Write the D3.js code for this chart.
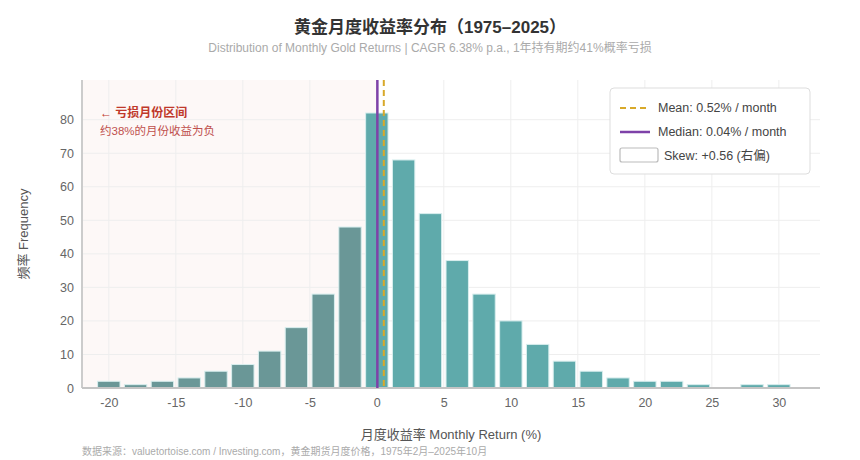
<!DOCTYPE html>
<html>
<head>
<meta charset="utf-8">
<script src="https://cdn.jsdelivr.net/npm/d3@7"></script>
<style>
  body { margin: 0; background: #fff; font-family: "Liberation Sans", Arial, "Noto Sans CJK SC", sans-serif; }
  svg text { font-family: "Liberation Sans", Arial, "Noto Sans CJK SC", sans-serif; }
</style>
</head>
<body>
<script>
// bin centres (%), bin width 2
var binCenters = [-20, -18, -16, -14, -12, -10, -8, -6, -4, -2, 0, 2, 4, 6, 8, 10, 12, 14, 16, 18, 20, 22, 24, 26, 28, 30];
var binCounts  = [2, 1, 2, 3, 5, 7, 11, 18, 28, 48, 82, 68, 52, 38, 28, 20, 13, 8, 5, 3, 2, 2, 1, 0, 1, 1];
var binWidth = 2;
var xTicks = [-20, -15, -10, -5, 0, 5, 10, 15, 20, 25, 30];
var yTicks = [0, 10, 20, 30, 40, 50, 60, 70, 80];
var meanReturn = 0.52, medianReturn = 0.04;
var legendLabels = ["Mean: 0.52% / month", "Median: 0.04% / month", "Skew: +0.56 (右偏)"];

var W = 860, H = 460;
var margin = {top: 80, right: 40, bottom: 72, left: 82},
    width = W - margin.left - margin.right,
    height = H - margin.top - margin.bottom;

var svg = d3.select("body").append("svg")
    .attr("width", W)
    .attr("height", H);

// title + subtitle
svg.append("text")
    .attr("x", 430).attr("y", 33)
    .attr("text-anchor", "middle")
    .style("font-size", "17px").style("font-weight", "bold").style("fill", "#333")
    .text("黄金月度收益率分布（1975–2025）");
svg.append("text")
    .attr("x", 430).attr("y", 52)
    .attr("text-anchor", "middle")
    .style("font-size", "12px").style("fill", "#aaa")
    .text("Distribution of Monthly Gold Returns | CAGR 6.38% p.a., 1年持有期约41%概率亏损");

var g = svg.append("g")
    .attr("transform", "translate(" + margin.left + "," + margin.top + ")");

var x = d3.scaleLinear().domain([-22, 33.07]).range([0, width]);
var y = d3.scaleLinear().domain([0, 82 * 1.12]).range([height, 0]);

// loss region shading
g.append("rect")
    .attr("x", 0).attr("y", 0)
    .attr("width", x(0)).attr("height", height)
    .attr("fill", "#fdf8f7");

// grid
g.append("g").selectAll("line")
    .data(xTicks).enter().append("line")
    .attr("x1", function(d) { return x(d); }).attr("x2", function(d) { return x(d); })
    .attr("y1", 0).attr("y2", height)
    .attr("stroke", "#eeeeee").attr("stroke-width", 1);
g.append("g").selectAll("line")
    .data(yTicks.filter(function(d) { return d > 0; })).enter().append("line")
    .attr("x1", 0).attr("x2", width)
    .attr("y1", function(d) { return y(d); }).attr("y2", function(d) { return y(d); })
    .attr("stroke", "#eeeeee").attr("stroke-width", 1);

// bars
var bins = binCenters.map(function(c, i) { return {c: c, n: binCounts[i]}; });
g.append("g").selectAll("rect")
    .data(bins.filter(function(d) { return d.n > 0; })).enter().append("rect")
    .attr("x", function(d) { return x(d.c - binWidth / 2) + 2.2; })
    .attr("width", function(d) { return x(d.c + binWidth / 2) - x(d.c - binWidth / 2) - 4.4; })
    .attr("y", function(d) { return y(d.n); })
    .attr("height", function(d) { return height - y(d.n); })
    .attr("fill", function(d) { return d.c < 0 ? "#6a9797" : "#5faaab"; })
    .attr("stroke", "#d8eeee").attr("stroke-width", 1);

// axes
var fmt = function(d) { return String(d); };
var xAxis = g.append("g")
    .attr("transform", "translate(0," + height + ")")
    .call(d3.axisBottom(x).tickValues(xTicks).tickFormat(fmt).tickSize(0).tickPadding(10));
var yAxis = g.append("g")
    .call(d3.axisLeft(y).tickValues(yTicks).tickFormat(fmt).tickSize(0).tickPadding(8));
[xAxis, yAxis].forEach(function(a) {
  a.selectAll("text").style("font-size", "12.5px").style("fill", "#666")
    .style("font-family", "'Liberation Sans', Arial, sans-serif");
  a.select(".domain").remove();
});
g.append("line")
    .attr("x1", 0).attr("x2", 0).attr("y1", 0).attr("y2", height)
    .attr("stroke", "#cccccc").attr("stroke-width", 2);
g.append("line")
    .attr("x1", 0).attr("x2", width).attr("y1", height).attr("y2", height)
    .attr("stroke", "#c4c4c4").attr("stroke-width", 2);

// median and mean
g.append("line")
    .attr("x1", x(medianReturn)).attr("x2", x(medianReturn))
    .attr("y1", 0).attr("y2", height)
    .attr("stroke", "#7e42a8").attr("stroke-width", 2.5);
g.append("line")
    .attr("x1", x(meanReturn)).attr("x2", x(meanReturn))
    .attr("y1", 0).attr("y2", height)
    .attr("stroke", "#d8a92a").attr("stroke-width", 2)
    .attr("stroke-dasharray", "6,4");

// loss annotation
g.append("text")
    .attr("x", 18).attr("y", 37)
    .style("font-size", "12px").style("font-weight", "bold").style("fill", "#c0392b")
    .text("← 亏损月份区间");
g.append("text")
    .attr("x", 18).attr("y", 55)
    .style("font-size", "11.5px").style("fill", "#c0504d")
    .text("约38%的月份收益为负");

// axis titles
svg.append("text")
    .attr("transform", "translate(28," + (margin.top + height / 2) + ") rotate(-90)")
    .attr("text-anchor", "middle")
    .style("font-size", "13px").style("fill", "#555")
    .text("频率 Frequency");
svg.append("text")
    .attr("x", margin.left + width / 2).attr("y", 439)
    .attr("text-anchor", "middle")
    .style("font-size", "13px").style("fill", "#555")
    .text("月度收益率 Monthly Return (%)");

// footer
svg.append("text")
    .attr("x", 82).attr("y", 455)
    .style("font-size", "10px").style("fill", "#aaa")
    .text("数据来源：valuetortoise.com / Investing.com，黄金期货月度价格，1975年2月–2025年10月");

// legend
var lg = svg.append("g").attr("transform", "translate(610,88)");
lg.append("rect")
    .attr("width", 200).attr("height", 86).attr("rx", 4)
    .attr("fill", "#fff").attr("stroke", "#dddddd");
lg.append("line").attr("x1", 10).attr("x2", 40).attr("y1", 20).attr("y2", 20)
    .attr("stroke", "#d8a92a").attr("stroke-width", 2).attr("stroke-dasharray", "6,4");
lg.append("line").attr("x1", 10).attr("x2", 40).attr("y1", 44).attr("y2", 44)
    .attr("stroke", "#7e42a8").attr("stroke-width", 2.5);
lg.append("rect").attr("x", 10).attr("y", 60).attr("width", 38).attr("height", 14).attr("rx", 2)
    .attr("fill", "#fff").attr("stroke", "#bbbbbb").attr("stroke-width", 1.2);
var legendPos = [[48, 24], [48, 48], [54, 72]];
lg.selectAll("text.lt").data(legendLabels).enter().append("text")
    .attr("class", "lt")
    .attr("x", function(d, i) { return legendPos[i][0]; })
    .attr("y", function(d, i) { return legendPos[i][1]; })
    .style("font-size", "12.5px").style("fill", "#444")
    .text(function(d) { return d; });
</script>
</body>
</html>
